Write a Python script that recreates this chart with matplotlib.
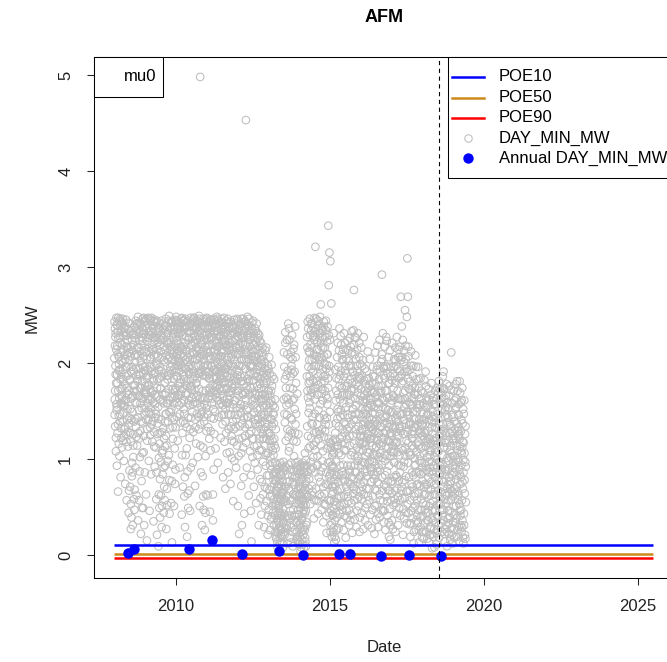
import matplotlib
matplotlib.use("Agg")
import matplotlib.pyplot as plt
from matplotlib.patches import Rectangle
from matplotlib.lines import Line2D

plt.rcParams['font.family'] = ['Liberation Sans', 'DejaVu Sans']

# ---------------- data ----------------
# daily minimum MW readings, grouped by month, first batch
mw_2008 = [
    [2.43, 1.62, 2.18, 1.34, 1.97, 2.31, 1.08, 1.79, 2.47, 1.51, 0.93],
    [1.88, 2.39, 1.27, 2.09, 0.66, 1.71, 2.26, 1.45, 1.99, 2.44, 1.03],
    [2.21, 1.39, 2.46, 1.83, 0.81, 1.57, 2.34, 1.22, 2.02, 1.66, 1.12],
    [1.74, 2.41, 1.19, 2.13, 1.93, 1.48, 2.28, 0.98, 1.61, 2.37, 1.31],
    [2.36, 1.55, 0.74, 2.04, 1.86, 1.26, 2.45, 1.69, 0.57, 2.17, 1.41],
    [1.96, 2.24, 1.13, 0.02, 2.42, 1.67, 0.44, 1.37, 2.11, 0.88, 1.82],
    [2.33, 0.71, 1.52, 2.07, 0.27, 1.18, 1.91, 0.39, 2.29, 0.96, 1.64],
    [1.49, 0.31, 2.19, 1.26, 1.02, 1.77, 0.06, 2.38, 0.47, 0.68, 2.01],
    [2.26, 1.59, 0.91, 2.44, 1.33, 1.87, 0.62, 2.09, 1.71, 1.14, 2.35],
    [1.81, 2.48, 0.36, 1.43, 2.16, 1.21, 0.57, 2.31, 1.66, 1.94, 1.02],
    [2.12, 1.29, 2.41, 0.22, 1.74, 2.27, 0.77, 1.53, 1.98, 1.06, 2.46],
    [1.63, 2.34, 0.49, 1.89, 2.07, 1.24, 0.31, 2.43, 1.46, 0.86, 1.76],
]
mw_2009 = [
    [2.38, 1.72, 2.11, 0.63, 1.49, 2.46, 1.86, 0.15, 1.31, 2.22, 1.58],
    [1.93, 2.47, 1.41, 2.16, 0.98, 1.77, 2.33, 0.46, 1.62, 2.04, 1.25],
    [2.29, 1.53, 2.44, 0.84, 1.96, 1.36, 2.19, 1.69, 1.18, 2.39, 1.84],
    [1.71, 2.36, 0.35, 1.88, 2.08, 1.28, 2.45, 0.92, 1.57, 2.23, 1.43],
    [2.42, 1.12, 1.99, 0.58, 2.27, 1.65, 0.21, 1.83, 2.14, 1.37, 2.37],
    [1.54, 0.09, 2.32, 1.01, 1.92, 0.49, 2.18, 1.27, 0.79, 2.41, 1.73],
    [2.24, 0.62, 1.41, 2.44, 0.29, 1.86, 1.06, 2.06, 0.84, 1.61, 2.35],
    [1.32, 2.17, 0.44, 1.89, 0.71, 2.39, 1.13, 1.67, 0.93, 2.01, 1.47],
    [2.46, 1.24, 0.27, 2.08, 1.58, 0.69, 2.31, 1.83, 0.98, 1.39, 2.19],
    [1.87, 2.34, 1.04, 2.49, 0.78, 1.61, 2.13, 1.32, 1.96, 2.42, 1.49],
    [2.22, 0.54, 1.76, 2.43, 0.13, 1.43, 2.03, 0.94, 1.21, 2.31, 1.64],
    [1.58, 2.39, 0.51, 1.94, 2.18, 1.11, 1.72, 2.45, 0.89, 1.33, 2.06],
]
mw_2010 = [
    [2.48, 1.86, 2.23, 1.44, 2.09, 1.63, 2.37, 1.19, 1.97, 2.31, 1.76],
    [2.02, 2.42, 1.56, 2.19, 0.91, 1.79, 2.35, 1.38, 2.08, 1.67, 2.46],
    [2.33, 1.71, 0.42, 2.47, 1.96, 1.27, 2.14, 0.71, 1.88, 2.39, 1.52],
    [1.83, 2.44, 0.61, 1.47, 2.21, 0.29, 1.94, 2.36, 1.04, 1.69, 2.12],
    [2.27, 1.33, 2.43, 0.19, 1.81, 0.87, 2.06, 1.58, 0.49, 2.32, 1.91],
    [1.61, 0.06, 2.38, 1.22, 2.03, 0.46, 1.76, 2.47, 0.91, 1.43, 2.18],
    [2.41, 1.94, 2.26, 1.49, 2.11, 0.96, 1.83, 2.45, 1.28, 1.67, 2.34],
    [1.91, 2.47, 1.59, 2.28, 0.72, 2.04, 1.41, 2.38, 1.79, 1.16, 2.16],
    [2.36, 1.47, 2.12, 1.84, 2.44, 1.02, 1.66, 2.29, 1.97, 1.31, 2.49],
    [1.73, 2.33, 0.51, 2.06, 4.98, 1.36, 2.42, 0.86, 1.91, 2.21, 1.54],
    [2.19, 0.31, 1.63, 2.39, 0.82, 1.87, 1.12, 2.46, 0.47, 2.03, 1.39],
    [1.44, 2.29, 0.26, 1.97, 2.44, 1.03, 1.71, 0.63, 2.13, 1.29, 2.37],
]
mw_2011 = [
    [2.47, 1.56, 2.18, 0.62, 1.91, 2.36, 1.33, 2.04, 1.72, 2.43, 1.21],
    [1.84, 2.31, 0.45, 1.66, 2.45, 1.09, 2.12, 1.43, 1.97, 2.39, 1.58],
    [2.26, 0.16, 1.77, 2.41, 0.36, 1.52, 2.07, 0.89, 1.93, 2.33, 1.26],
    [1.98, 2.44, 1.49, 2.22, 1.11, 1.86, 2.37, 1.64, 2.09, 1.76, 2.48],
    [2.34, 1.69, 2.46, 0.96, 1.94, 2.17, 1.44, 2.39, 1.81, 1.57, 2.06],
    [1.73, 2.28, 1.87, 2.43, 1.22, 2.01, 1.58, 2.35, 1.92, 2.14, 1.46],
    [2.42, 1.36, 2.11, 0.81, 1.79, 2.32, 1.61, 2.47, 1.97, 1.18, 2.23],
    [1.89, 2.38, 0.69, 1.52, 2.19, 1.27, 2.44, 1.74, 1.06, 2.03, 1.63],
    [2.29, 1.58, 2.46, 0.86, 1.93, 1.31, 2.14, 1.69, 2.37, 1.07, 1.84],
    [1.66, 2.21, 0.74, 2.43, 1.46, 1.97, 1.24, 2.31, 1.01, 1.78, 2.09],
    [2.14, 1.39, 2.36, 0.56, 1.82, 2.04, 1.18, 2.45, 0.98, 1.61, 2.26],
    [1.76, 2.41, 1.33, 2.17, 0.91, 1.99, 1.53, 2.33, 1.14, 2.46, 1.87],
]
mw_2012 = [
    [2.32, 0.51, 1.71, 2.44, 1.03, 1.91, 0.22, 2.16, 1.34, 2.39, 1.57],
    [1.86, 2.41, 1.48, 2.21, 0.72, 0.01, 1.97, 0.31, 2.34, 1.22, 1.67],
    [2.27, 1.12, 2.46, 0.81, 1.78, 2.09, 0.43, 1.56, 2.37, 1.33, 1.94],
    [1.69, 2.43, 4.53, 1.17, 2.04, 1.51, 0.91, 2.29, 1.83, 2.48, 1.36],
    [2.38, 1.44, 2.11, 0.62, 1.87, 2.46, 1.26, 1.67, 2.24, 1.08, 1.96],
    [1.97, 0.46, 2.33, 1.29, 0.14, 2.07, 1.61, 2.42, 1.02, 1.82, 2.19],
    [2.44, 1.21, 1.88, 0.71, 2.27, 1.49, 2.06, 0.96, 1.68, 2.36, 1.37],
    [1.58, 2.22, 0.54, 1.93, 2.41, 1.14, 1.76, 2.01, 0.89, 2.31, 1.41],
    [2.18, 1.34, 0.31, 1.73, 2.29, 1.09, 1.91, 1.52, 0.79, 2.04, 1.62],
    [1.84, 2.21, 0.42, 1.46, 1.99, 0.76, 1.67, 2.11, 1.21, 1.56, 0.97],
    [2.07, 1.31, 1.79, 0.29, 1.53, 1.94, 0.71, 1.66, 1.14, 2.13, 0.93],
    [1.62, 2.16, 0.56, 1.21, 1.88, 0.83, 1.43, 0.21, 1.97, 1.06, 1.71],
]
mw_2013 = [
    [1.94, 0.47, 1.27, 2.06, 0.68, 1.58, 0.26, 1.81, 0.93, 1.42, 1.13],
    [1.71, 0.89, 1.98, 0.39, 1.34, 0.62, 1.86, 1.09, 0.51, 1.56, 0.78],
    [1.46, 0.31, 1.83, 0.74, 1.14, 0.53, 1.62, 0.96, 0.24, 1.31, 0.67],
    [0.86, 0.17, 0.63, 0.94, 0.36, 0.71, 0.08, 0.52, 0.81, 0.27, 0.44],
    [0.49, 0.04, 0.77, 0.29, 0.91, 0.12, 0.58, 0.38, 0.84, 0.21, 0.66],
    [0.72, 0.19, 0.93, 0.41, 0.64, 0.07, 0.86, 0.33, 0.55, 0.97, 0.24],
    [2.11, 0.58, 1.47, 0.21, 1.83, 0.88, 2.32, 0.39, 1.19, 0.71, 1.64],
    [1.56, 0.31, 2.24, 0.76, 1.31, 0.12, 1.92, 0.53, 2.41, 0.94, 1.08],
    [2.36, 0.67, 1.12, 0.18, 1.74, 0.46, 2.06, 0.89, 1.43, 0.29, 1.97],
    [1.27, 0.41, 2.29, 0.82, 1.61, 0.09, 1.89, 0.63, 2.15, 0.36, 1.03],
    [2.19, 0.73, 1.52, 0.26, 2.38, 0.96, 1.36, 0.54, 1.79, 0.16, 1.18],
    [0.88, 0.34, 1.68, 0.61, 0.19, 0.93, 0.47, 1.26, 0.72, 0.11, 0.57],
]
mw_2014 = [
    [0.62, 0.14, 0.87, 0.33, 0.71, 0.04, 0.49, 0.94, 0.24, 0.56, 0.81],
    [0.38, 0.79, 0.11, 0.58, 0.96, 0.21, 0.00, 0.67, 0.47, 0.86, 0.29],
    [0.91, 0.43, 1.06, 0.18, 0.74, 0.52, 0.99, 0.09, 0.63, 0.34, 0.83],
    [2.27, 0.93, 1.71, 2.43, 1.24, 0.61, 1.96, 1.48, 2.12, 0.79, 1.59],
    [1.86, 2.46, 1.13, 0.53, 2.19, 1.66, 0.89, 2.34, 1.37, 2.03, 0.72],
    [2.41, 1.44, 0.66, 1.91, 2.28, 1.02, 1.73, 0.38, 2.09, 1.27, 2.47],
    [1.62, 2.33, 0.86, 3.21, 1.97, 1.18, 2.46, 0.57, 1.81, 2.14, 1.36],
    [2.22, 1.03, 1.77, 0.43, 2.39, 1.51, 0.81, 2.06, 1.29, 2.31, 0.63],
    [1.43, 2.48, 0.76, 1.89, 2.61, 1.14, 2.17, 0.47, 1.68, 2.36, 0.98],
    [2.34, 0.91, 1.61, 2.16, 0.34, 1.86, 2.43, 1.23, 0.64, 1.99, 1.41],
    [1.71, 2.27, 0.52, 1.36, 2.44, 0.86, 1.94, 0.23, 2.09, 1.11, 1.57],
    [2.38, 0.73, 1.84, 3.43, 1.21, 2.81, 0.44, 1.97, 3.15, 1.49, 2.24],
]
mw_2015 = [
    [0.84, 3.06, 0.31, 1.12, 0.57, 2.62, 0.93, 0.19, 0.71, 1.04, 0.42],
    [0.66, 1.19, 0.24, 0.91, 2.31, 0.48, 1.07, 0.13, 0.79, 0.36, 1.21],
    [1.93, 0.52, 1.37, 0.16, 1.71, 0.83, 1.18, 0.39, 2.06, 0.67, 1.52],
    [2.21, 0.76, 1.49, 0.28, 1.83, 1.06, 0.02, 2.36, 0.51, 1.62, 0.93],
    [1.44, 2.28, 0.61, 1.92, 0.34, 1.17, 2.09, 0.87, 1.66, 0.47, 1.31],
    [2.04, 0.79, 1.58, 0.26, 2.31, 1.09, 0.53, 1.76, 1.27, 0.41, 1.92],
    [1.36, 0.18, 1.89, 0.71, 2.14, 0.46, 1.21, 1.67, 0.93, 2.23, 0.61],
    [1.79, 0.56, 2.02, 0.89, 1.33, 0.31, 1.58, 1.14, 2.26, 0.02, 0.74],
    [2.17, 1.04, 0.42, 1.71, 2.33, 0.81, 1.46, 0.23, 1.91, 1.24, 0.64],
    [1.52, 2.34, 0.69, 2.76, 1.16, 1.87, 0.37, 2.09, 0.94, 1.63, 1.31],
    [2.26, 0.86, 1.41, 0.29, 1.97, 1.12, 2.14, 0.58, 1.69, 0.98, 1.83],
    [1.34, 0.51, 1.86, 1.08, 2.21, 0.24, 1.61, 0.82, 1.99, 1.23, 0.67],
]
mw_2016 = [
    [1.73, 0.94, 2.16, 0.44, 1.31, 1.87, 0.71, 1.52, 1.09, 2.03, 0.27],
    [1.18, 2.27, 0.63, 1.66, 1.39, 0.86, 1.94, 0.36, 1.51, 1.03, 1.78],
    [1.47, 0.82, 1.91, 1.22, 0.53, 1.69, 1.07, 2.12, 0.31, 1.36, 0.96],
    [1.26, 1.84, 0.69, 1.43, 0.98, 2.04, 1.58, 0.42, 1.17, 1.71, 0.87],
    [1.62, 0.91, 1.33, 0.28, 1.79, 1.14, 1.48, 0.61, 1.96, 1.05, 1.27],
    [0.97, 1.54, 1.21, 0.22, 1.86, 0.68, 1.39, 2.11, 0.83, 1.64, 1.12],
    [1.41, 0.52, 1.93, 1.04, 2.18, 0.76, 1.58, 0.29, 1.27, 1.76, 0.91],
    [1.83, 1.16, 0.63, 2.24, 1.47, 0.88, 1.34, 1.69, -0.01, 2.01, 0.47],
    [1.22, 2.09, 2.92, 0.81, 1.63, 1.01, 2.31, 0.56, 1.44, 1.87, 0.34],
    [1.94, 0.73, 1.37, 2.17, 0.98, 1.71, 0.26, 1.52, 1.13, 2.27, 0.61],
    [1.46, 2.23, 0.87, 1.64, 0.41, 1.89, 1.19, 0.67, 2.06, 1.33, 0.19],
    [0.93, 1.79, 0.48, 2.13, 1.27, 0.16, 1.58, 0.76, 1.96, 1.08, 1.41],
]
mw_2017 = [
    [1.61, 0.36, 2.21, 1.14, 0.77, 1.89, 1.32, 0.52, 1.74, 0.97, 2.04],
    [1.07, 1.86, 0.58, 1.43, 2.16, 0.24, 1.28, 0.83, 1.97, 1.51, 0.43],
    [2.27, 1.18, 0.69, 1.71, 1.39, 0.31, 2.06, 0.94, 1.56, 1.84, 0.49],
    [1.34, 2.06, 0.86, 1.92, 0.41, 1.62, 2.69, 0.67, 1.11, 1.79, 2.38],
    [1.88, 0.59, 1.47, 2.24, 0.21, 1.26, 1.69, 0.92, 2.01, 0.38, 1.54],
    [0.78, 1.63, 2.55, 1.12, 2.18, 0.44, 1.37, 1.94, 0.66, 1.49, 2.48],
    [1.46, 3.09, 0.53, 2.69, 1.84, 1.17, 2.07, 0.00, 0.81, 1.59, 0.32],
    [1.93, 0.67, 1.38, 0.19, 1.72, 1.04, 2.12, 0.46, 1.26, 1.63, 0.86],
    [1.21, 1.76, 0.38, 1.49, 0.83, 1.97, 0.12, 1.33, 0.61, 1.68, 1.01],
    [1.67, 0.51, 2.08, 0.94, 1.42, 0.26, 1.83, 1.16, 0.73, 1.57, 0.41],
    [0.87, 1.53, 0.34, 1.96, 1.18, 0.64, 1.74, 0.13, 1.41, 0.98, 1.27],
    [1.38, 0.72, 1.84, 0.29, 1.11, 1.63, 0.47, 0.96, 1.49, 0.18, 1.24],
]
mw_2018 = [
    [1.12, 1.69, 0.41, 0.86, 1.47, 0.17, 1.28, 0.63, 1.82, 0.96, 0.33],
    [0.74, 1.37, 1.91, 0.52, 1.13, 0.24, 1.64, 0.88, 1.46, 0.36, 1.02],
    [1.56, 0.44, 1.21, 0.81, 1.73, 0.13, 0.97, 1.41, 0.62, 1.08, 0.29],
    [0.91, 1.52, 0.27, 1.16, 0.68, 1.79, 0.38, 1.33, 0.07, 0.84, 1.44],
    [1.26, 0.56, 1.64, 0.19, 0.93, 1.38, 0.73, 0.08, 1.11, 0.47, 1.71],
    [0.63, 1.19, 0.34, 1.57, 0.86, 0.11, 1.32, 0.52, 0.99, 1.74, 0.26],
    [1.47, 0.39, 1.08, 0.77, 1.81, 0.18, 1.24, 0.61, 1.59, 0.93, 0.46],
    [0.96, 0.53, -0.01, 1.69, 1.31, 0.78, 0.24, 1.52, 1.04, 0.41, 1.86],
    [1.36, 0.71, 1.91, 0.36, 1.12, 0.58, 1.63, 0.14, 0.89, 1.44, 0.27],
    [0.84, 1.54, 0.31, 1.17, 0.62, 1.78, 0.09, 1.01, 1.38, 0.46, 0.73],
    [1.43, 0.57, 0.98, 0.22, 1.66, 0.81, 1.27, 0.39, 1.09, 0.16, 0.69],
    [0.77, 1.34, 2.11, 0.44, 1.06, 0.21, 1.58, 0.66, 0.93, 1.21, 0.35],
]
mw_2019 = [
    [1.24, 0.51, 1.71, 0.86, 0.18, 1.39, 0.64, 1.03, 0.33, 1.52, 0.79],
    [0.94, 1.63, 0.38, 1.14, 0.71, 1.81, 0.26, 1.29, 0.57, 0.99, 1.46],
    [1.33, 0.62, 1.57, 0.14, 0.89, 1.21, 0.46, 1.69, 0.74, 0.31, 1.08],
    [0.81, 1.41, 0.24, 1.06, 0.57, 1.74, 0.36, 1.18, 0.69, 1.52, 0.12],
    [1.17, 0.43, 1.61, 0.78, 0.21, 0.97, 1.34, 0.55],
]

# second batch of daily readings per month
mwb_2008 = [
    [2.05, 1.46, 2.36, 1.71, 2.27, 1.88, 1.22, 2.14, 1.57, 2.40],
    [1.54, 2.18, 1.79, 2.32, 1.36, 2.47, 1.92, 1.16, 2.06, 1.63],
    [1.93, 2.28, 1.47, 2.39, 1.73, 2.11, 1.32, 1.88, 2.43, 1.58],
    [2.19, 1.64, 2.46, 1.39, 1.83, 2.01, 1.56, 2.32, 1.24, 2.08],
    [1.78, 2.21, 1.33, 2.38, 1.61, 1.96, 2.29, 1.18, 1.74, 2.09],
    [2.31, 1.52, 1.87, 2.16, 1.28, 2.35, 1.71, 0.67, 2.03, 1.43],
    [1.83, 2.41, 1.27, 1.63, 0.53, 2.17, 1.41, 1.96, 0.82, 2.24],
    [2.13, 0.86, 1.66, 2.31, 1.14, 1.92, 0.58, 1.39, 2.08, 1.71],
    [1.77, 2.08, 1.42, 2.29, 1.95, 1.23, 2.41, 1.58, 2.16, 1.83],
    [2.39, 1.66, 2.07, 1.27, 1.88, 2.42, 1.51, 2.24, 0.87, 1.74],
    [1.87, 2.33, 1.58, 2.02, 1.39, 2.19, 1.64, 0.49, 2.37, 1.81],
    [2.23, 1.38, 1.96, 2.47, 1.07, 2.13, 1.69, 2.31, 1.53, 1.92],
]
mwb_2009 = [
    [1.96, 2.44, 1.67, 2.27, 1.41, 2.04, 1.84, 2.36, 1.19, 1.76],
    [2.26, 1.62, 2.41, 1.87, 2.12, 1.49, 2.29, 1.73, 2.46, 1.33],
    [1.71, 2.06, 1.47, 2.33, 1.91, 2.47, 1.62, 2.14, 1.39, 2.27],
    [2.31, 1.59, 2.14, 1.82, 2.43, 1.13, 1.97, 2.26, 1.67, 1.51],
    [1.89, 2.33, 1.47, 2.09, 0.86, 2.44, 1.74, 1.98, 1.26, 2.21],
    [2.07, 1.42, 2.26, 0.63, 1.84, 2.36, 1.16, 1.96, 0.39, 1.62],
    [1.74, 2.12, 0.97, 1.92, 2.29, 1.28, 0.51, 1.67, 2.41, 1.09],
    [2.26, 1.58, 0.91, 2.03, 1.21, 2.31, 0.57, 1.79, 1.38, 2.14],
    [1.69, 2.39, 1.47, 1.14, 2.22, 1.87, 0.52, 2.04, 1.58, 2.31],
    [2.21, 1.73, 2.44, 1.49, 2.06, 0.43, 1.92, 2.36, 1.64, 2.17],
    [1.89, 2.37, 1.52, 2.14, 0.77, 1.97, 2.44, 1.33, 1.73, 2.09],
    [2.27, 1.84, 2.12, 1.41, 2.36, 1.66, 0.74, 2.03, 1.91, 2.44],
]
mwb_2010 = [
    [1.74, 2.27, 1.97, 2.43, 1.59, 2.14, 1.86, 2.36, 1.67, 2.05],
    [2.28, 1.66, 2.12, 1.92, 2.39, 1.47, 2.01, 2.31, 1.83, 2.17],
    [1.98, 2.41, 1.58, 2.16, 1.04, 2.29, 1.73, 2.44, 1.39, 2.07],
    [2.17, 1.61, 2.37, 1.86, 0.81, 2.03, 1.37, 2.46, 1.77, 1.94],
    [1.67, 2.14, 1.11, 2.38, 1.76, 2.01, 0.64, 1.43, 2.24, 1.96],
    [2.26, 1.89, 0.67, 2.09, 1.56, 2.33, 1.31, 1.98, 2.41, 1.72],
    [1.76, 2.19, 2.43, 1.63, 2.04, 2.38, 1.57, 2.21, 1.89, 2.47],
    [2.31, 2.09, 1.72, 2.43, 1.86, 2.21, 1.33, 1.97, 2.36, 1.64],
    [1.79, 2.24, 2.04, 2.41, 1.58, 2.17, 1.89, 2.33, 1.44, 2.07],
    [2.13, 1.89, 2.46, 1.63, 2.27, 1.14, 1.98, 2.37, 1.47, 2.09],
    [1.93, 2.31, 1.49, 2.12, 1.71, 2.43, 0.61, 1.96, 2.24, 1.57],
    [2.08, 1.64, 2.38, 1.87, 2.17, 0.44, 1.91, 2.46, 1.53, 2.24],
]
mwb_2011 = [
    [1.86, 2.29, 1.47, 2.11, 1.98, 2.39, 1.63, 2.26, 1.84, 2.07],
    [2.19, 1.74, 2.36, 1.88, 2.04, 1.29, 2.27, 1.69, 2.44, 1.96],
    [1.97, 2.37, 1.63, 2.19, 0.63, 1.84, 2.46, 1.42, 2.12, 1.71],
    [2.31, 1.76, 2.14, 1.93, 2.41, 1.67, 2.06, 2.29, 1.84, 2.17],
    [1.91, 2.21, 1.76, 2.33, 2.04, 1.61, 2.44, 1.89, 2.27, 1.73],
    [2.18, 1.96, 2.41, 1.67, 2.29, 1.84, 2.07, 2.46, 1.71, 2.23],
    [1.84, 2.19, 1.56, 2.37, 2.01, 1.73, 2.28, 1.46, 2.13, 1.94],
    [2.24, 1.81, 2.06, 1.39, 2.31, 1.94, 1.58, 2.16, 1.86, 2.41],
    [1.73, 2.19, 1.98, 2.34, 1.47, 2.06, 1.79, 2.42, 1.62, 2.13],
    [2.17, 1.53, 1.89, 2.29, 1.34, 2.06, 1.71, 2.38, 1.19, 1.92],
    [1.74, 2.23, 1.57, 1.96, 2.39, 1.31, 2.11, 1.86, 2.31, 1.46],
    [2.24, 1.61, 2.09, 1.81, 2.37, 1.42, 2.16, 1.93, 1.71, 2.28],
]
mwb_2012 = [
    [1.84, 2.27, 1.46, 2.09, 1.66, 2.36, 1.21, 1.97, 2.18, 1.53],
    [2.13, 1.57, 2.29, 1.81, 1.06, 2.46, 1.69, 2.03, 1.37, 2.26],
    [1.81, 2.19, 1.67, 2.31, 1.43, 2.04, 1.86, 2.43, 1.24, 2.14],
    [2.19, 1.94, 2.36, 1.62, 2.11, 1.76, 2.41, 1.44, 2.01, 2.27],
    [1.72, 2.29, 1.53, 2.04, 1.81, 2.39, 1.36, 2.17, 1.91, 2.31],
    [2.27, 1.74, 1.97, 0.83, 2.14, 1.46, 2.36, 1.69, 1.21, 2.03],
    [1.97, 2.12, 1.56, 2.31, 1.82, 1.13, 2.19, 1.63, 2.02, 1.41],
    [2.07, 1.67, 2.33, 1.29, 1.86, 2.14, 1.53, 1.04, 1.96, 2.26],
    [1.86, 1.43, 2.09, 1.66, 1.21, 1.97, 2.23, 1.37, 1.78, 0.59],
    [1.31, 1.74, 2.03, 1.61, 1.09, 1.87, 1.43, 2.16, 1.26, 0.63],
    [1.63, 1.89, 1.21, 1.74, 1.46, 2.01, 0.51, 1.37, 1.84, 1.04],
    [1.33, 1.79, 1.06, 1.56, 0.69, 1.92, 1.27, 1.67, 0.41, 1.49],
]
mwb_2013 = [
    [1.36, 1.71, 0.83, 1.53, 1.19, 1.89, 0.61, 1.66, 1.02, 0.37],
    [1.24, 1.61, 0.71, 1.41, 1.76, 0.96, 1.19, 0.44, 1.48, 0.84],
    [1.04, 1.37, 0.58, 1.21, 0.86, 1.53, 0.41, 0.77, 1.11, 0.19],
    [0.53, 0.77, 0.31, 0.66, 0.14, 0.89, 0.42, 0.59, 0.23, 0.74],
    [0.71, 0.33, 0.52, 0.86, 0.18, 0.63, 0.44, 0.96, 0.26, 0.57],
    [0.41, 0.83, 0.27, 0.61, 0.12, 0.76, 0.48, 0.91, 0.35, 0.67],
    [1.62, 0.43, 1.96, 0.71, 1.38, 0.29, 2.21, 0.92, 1.74, 0.56],
    [1.87, 0.62, 1.46, 0.27, 2.09, 0.84, 1.62, 0.41, 1.23, 0.69],
    [1.58, 0.38, 2.24, 0.77, 1.29, 0.56, 1.86, 0.13, 2.11, 0.96],
    [1.93, 0.57, 1.41, 0.24, 2.04, 0.76, 1.73, 0.47, 1.19, 0.87],
    [1.63, 0.41, 1.91, 0.81, 1.27, 0.62, 2.06, 0.34, 1.47, 0.91],
    [0.63, 0.24, 0.81, 0.42, 0.97, 0.15, 0.69, 0.36, 0.53, 0.84],
]
mwb_2014 = [
    [0.42, 0.76, 0.19, 0.64, 0.28, 0.91, 0.53, 0.08, 0.69, 0.37],
    [0.61, 0.16, 0.84, 0.43, 0.72, 0.26, 0.93, 0.52, 0.07, 0.64],
    [0.57, 0.86, 0.26, 0.68, 0.14, 0.93, 0.46, 0.77, 0.31, 0.61],
    [1.86, 1.34, 2.16, 0.87, 1.64, 2.36, 1.11, 1.79, 0.69, 2.03],
    [2.11, 1.53, 1.81, 2.29, 0.97, 1.72, 2.41, 1.22, 1.94, 0.62],
    [1.69, 2.16, 1.36, 0.91, 1.82, 2.37, 1.14, 1.97, 0.57, 2.24],
    [2.04, 1.47, 2.27, 1.09, 1.74, 0.69, 2.36, 1.28, 2.07, 0.93],
    [1.67, 2.14, 0.94, 1.86, 2.44, 1.21, 0.56, 1.97, 1.43, 2.26],
    [2.03, 1.26, 2.31, 1.57, 0.87, 2.21, 1.79, 0.61, 2.06, 1.31],
    [1.73, 2.27, 1.08, 1.94, 0.71, 2.38, 1.46, 2.07, 0.53, 1.81],
    [2.16, 1.29, 1.87, 0.74, 2.34, 1.66, 0.41, 1.98, 1.43, 2.22],
    [1.63, 2.09, 0.96, 1.74, 0.57, 2.29, 1.36, 0.82, 1.91, 1.17],
]
mwb_2015 = [
    [0.56, 0.97, 0.24, 0.77, 1.16, 0.46, 0.87, 0.33, 0.63, 1.09],
    [0.93, 0.41, 0.71, 1.06, 0.28, 0.84, 0.56, 1.13, 0.19, 0.74],
    [1.27, 0.71, 1.61, 0.44, 0.97, 1.84, 0.26, 1.14, 0.59, 1.42],
    [1.67, 1.14, 1.96, 0.61, 1.34, 2.13, 0.84, 1.76, 0.43, 1.21],
    [1.87, 0.69, 1.51, 2.19, 1.04, 0.52, 1.74, 1.23, 2.03, 0.83],
    [1.46, 2.14, 0.94, 1.67, 0.62, 1.86, 1.38, 0.77, 2.21, 1.16],
    [1.97, 0.84, 1.54, 1.09, 2.04, 0.39, 1.76, 1.31, 0.66, 1.46],
    [1.43, 2.13, 0.76, 1.67, 0.47, 1.97, 1.24, 0.87, 1.83, 0.36],
    [1.62, 0.93, 1.97, 0.54, 1.36, 2.11, 1.07, 1.79, 0.71, 1.52],
    [1.91, 0.79, 1.41, 2.19, 0.57, 1.73, 1.03, 2.27, 0.86, 1.47],
    [1.56, 2.04, 0.67, 1.78, 1.26, 0.46, 1.91, 1.03, 2.31, 0.79],
    [1.76, 0.93, 1.47, 0.61, 2.06, 1.17, 0.39, 1.84, 1.29, 0.74],
]
mwb_2016 = [
    [1.24, 1.66, 0.83, 1.43, 0.58, 1.97, 1.16, 0.97, 1.61, 1.36],
    [1.47, 0.76, 1.23, 1.82, 0.96, 1.59, 1.14, 0.49, 1.71, 1.31],
    [1.17, 1.62, 0.69, 1.41, 1.83, 0.87, 1.54, 1.26, 0.61, 1.74],
    [1.53, 1.06, 1.36, 0.57, 1.77, 1.21, 0.91, 1.63, 1.33, 0.76],
    [1.21, 1.56, 0.76, 1.41, 0.97, 1.69, 0.47, 1.31, 1.86, 0.84],
    [1.36, 0.79, 1.69, 1.04, 0.51, 1.47, 1.29, 0.93, 1.78, 0.37],
    [1.13, 1.67, 0.67, 1.36, 0.87, 1.97, 1.19, 0.43, 1.52, 1.02],
    [1.27, 0.74, 1.58, 0.39, 1.91, 1.06, 1.42, 0.57, 1.76, 1.14],
    [1.71, 0.94, 1.33, 2.04, 0.67, 1.54, 1.17, 0.46, 1.96, 1.27],
    [1.21, 1.61, 0.46, 1.84, 1.04, 0.83, 1.43, 1.97, 0.71, 1.29],
    [1.71, 1.03, 1.37, 0.56, 1.96, 0.77, 1.51, 1.12, 0.34, 1.79],
    [1.18, 1.64, 0.67, 1.36, 0.31, 1.86, 1.03, 1.49, 0.57, 1.24],
]
mwb_2017 = [
    [1.27, 1.82, 0.64, 1.49, 1.07, 0.27, 1.66, 1.18, 1.96, 0.81],
    [1.64, 0.96, 1.34, 0.67, 1.79, 1.16, 2.03, 0.54, 1.41, 1.17],
    [1.46, 0.81, 1.94, 1.07, 0.61, 1.63, 1.24, 2.14, 0.77, 1.32],
    [1.63, 1.04, 2.17, 0.57, 1.46, 1.86, 0.93, 1.29, 2.03, 0.71],
    [1.34, 2.06, 0.76, 1.62, 1.09, 1.81, 0.48, 1.41, 2.13, 0.97],
    [1.91, 1.26, 0.59, 1.71, 1.03, 2.04, 0.82, 1.57, 1.19, 0.33],
    [1.28, 1.91, 0.67, 1.49, 0.96, 2.17, 0.44, 1.73, 1.07, 1.36],
    [1.46, 1.04, 1.81, 0.57, 1.57, 0.33, 1.36, 1.97, 0.74, 1.14],
    [1.56, 0.71, 1.29, 1.86, 0.49, 1.11, 1.63, 0.24, 1.41, 0.93],
    [1.26, 1.74, 0.64, 1.33, 0.86, 1.96, 0.36, 1.49, 1.07, 0.57],
    [1.36, 0.74, 1.67, 0.47, 1.14, 1.83, 0.26, 1.29, 0.86, 1.56],
    [1.03, 1.57, 0.39, 1.27, 0.84, 1.71, 0.58, 1.36, 0.24, 0.91],
]
mwb_2018 = [
    [0.77, 1.36, 0.54, 1.58, 0.24, 1.06, 1.41, 0.71, 1.21, 0.47],
    [1.27, 0.63, 1.54, 0.93, 1.76, 0.44, 1.19, 0.73, 1.61, 0.17],
    [1.17, 0.69, 1.47, 0.36, 1.29, 0.86, 1.62, 0.51, 1.04, 0.21],
    [1.21, 0.54, 1.67, 0.76, 1.09, 0.21, 1.39, 0.97, 0.46, 1.61],
    [0.87, 1.49, 0.36, 1.19, 0.63, 1.57, 0.27, 1.02, 0.81, 1.33],
    [1.07, 0.46, 1.43, 0.74, 1.22, 0.23, 1.63, 0.91, 0.41, 1.16],
    [1.16, 0.67, 1.69, 0.31, 0.97, 1.36, 0.54, 1.73, 0.84, 1.27],
    [1.18, 0.66, 1.43, 0.33, 1.63, 0.89, 1.26, 0.47, 1.74, 0.94],
    [1.04, 1.57, 0.47, 1.29, 0.76, 1.73, 0.22, 1.17, 0.64, 1.51],
    [1.27, 0.54, 1.66, 0.87, 1.46, 0.24, 1.12, 0.69, 1.59, 0.38],
    [0.89, 1.53, 0.33, 1.19, 0.64, 1.76, 0.46, 1.36, 0.74, 1.02],
    [1.14, 0.57, 1.72, 0.28, 1.29, 0.83, 1.46, 0.12, 1.03, 0.61],
]
mwb_2019 = [
    [0.97, 1.44, 0.27, 1.19, 0.69, 1.61, 0.42, 1.31, 0.91, 1.78],
    [1.21, 0.51, 1.54, 0.83, 1.37, 0.19, 1.09, 1.71, 0.66, 1.24],
    [0.97, 1.46, 0.29, 1.26, 0.53, 1.81, 0.84, 1.13, 0.41, 1.59],
    [1.29, 0.47, 0.94, 1.61, 0.29, 1.12, 0.76, 1.37, 0.18, 0.99],
    [0.86, 1.47, 0.31, 1.06, 0.64, 1.26, 0.17, 0.92],
]

day_years = [2008, 2009, 2010, 2011, 2012, 2013, 2014, 2015, 2016, 2017, 2018, 2019]
day_values_a = [mw_2008, mw_2009, mw_2010, mw_2011, mw_2012, mw_2013,
                mw_2014, mw_2015, mw_2016, mw_2017, mw_2018, mw_2019]
day_values_b = [mwb_2008, mwb_2009, mwb_2010, mwb_2011, mwb_2012, mwb_2013,
                mwb_2014, mwb_2015, mwb_2016, mwb_2017, mwb_2018, mwb_2019]

# annual minimum (decimal year, MW)
annual_dates = [2008.43, 2008.64, 2010.42, 2011.17, 2012.14, 2013.34,
                2014.13, 2015.30, 2015.65, 2016.65, 2017.56, 2018.60]
annual_mw = [0.018, 0.06, 0.06, 0.16, 0.01, 0.04, 0.0, 0.007, 0.007, -0.01, 0.0, -0.01]

# POE levels
poe_labels = ["POE10", "POE50", "POE90"]
poe_values = [0.104, 0.015, -0.035]
poe_colors = ["#0000FF", "#CC8A1C", "#FF0000"]
poe_span = [2008.0, 2025.5]

cutoff_date = 2018.53
x_ticks = [2010, 2015, 2020, 2025]
y_ticks = [0, 1, 2, 3, 4, 5]

# ---------------- figure ----------------
W, H = 667, 662
FS = 12
fig = plt.figure(figsize=(W / 100, H / 100), dpi=100)
L, R, T, B = 94, 675, 57, 578
ax = fig.add_axes([L / W, 1 - B / H, (R - L) / W, (B - T) / H])
ax.set_xlim(2007.338, 2026.2)
ax.set_ylim(-0.240, 5.1875)

xs, ys = [], []
for batch, shift in ((day_values_a, 0.5), (day_values_b, 0.0)):
    for yr, months in zip(day_years, batch):
        for m, vals in enumerate(months):
            n = len(vals)
            for i, v in enumerate(vals):
                xs.append(yr + (m + (i + shift) / n) / 12.0)
                ys.append(v)

ax.scatter(xs, ys, s=30, facecolors="none", edgecolors="#BEBEBE", linewidths=0.75, zorder=2)

for v, c in zip(poe_values, poe_colors):
    ax.plot(poe_span, [v, v], color=c, lw=1.8, solid_capstyle="butt", zorder=3)

ax.plot(annual_dates, annual_mw, "o", color="#0000FF", ms=7.5, mec="none", zorder=4)

ax.axvline(cutoff_date, color="black", lw=0.8, ls=(0, (3.8, 3.2)), zorder=5)

for s in ax.spines.values():
    s.set_linewidth(0.75)
    s.set_color("black")

ax.set_xticks(x_ticks)
ax.set_xticklabels([str(t) for t in x_ticks])
ax.set_yticks(y_ticks)
ax.set_yticklabels([str(t) for t in y_ticks], rotation=90, va="center")
ax.tick_params(axis="both", direction="out", length=5, width=0.75, labelsize=FS, colors="#222222")
ax.tick_params(axis="x", pad=10)
ax.tick_params(axis="y", pad=10)

fig.text((L + R) / 2 / W, 1 - 18 / H, "AFM", ha="center", va="center", fontsize=13, fontweight="bold")
fig.text(384 / W, 1 - 648 / H, "Date", ha="center", va="center", fontsize=FS, color="#222222")
fig.text(32 / W, 1 - 318 / H, "MW", ha="center", va="center", fontsize=FS, rotation=90, color="#222222")

# helper: pixel -> axes fraction
def pa(x, y):
    return ((x - L) / (R - L), (B - y) / (B - T))

# mu0 box (top-left)
x0, y0 = pa(94, 97)
x1, y1 = pa(163, 57)
ax.add_patch(Rectangle((x0, y0), x1 - x0, y1 - y0, transform=ax.transAxes,
                       facecolor="white", edgecolor="black", lw=0.75, zorder=6, clip_on=False))
tx, ty = pa(156, 77)
ax.text(tx, ty, "mu0", transform=ax.transAxes, ha="right", va="center", fontsize=FS, zorder=7)

# main legend (top-right)
x0, y0 = pa(448, 178)
x1, y1 = pa(675, 57)
ax.add_patch(Rectangle((x0, y0), x1 - x0, y1 - y0, transform=ax.transAxes,
                       facecolor="white", edgecolor="black", lw=0.75, zorder=6, clip_on=False))
rows = [77, 98, 118, 138, 158]
for lab, c, ry in zip(poe_labels, poe_colors, rows[:3]):
    a, b = pa(452, ry)
    a2, _ = pa(484, ry)
    ax.add_line(Line2D([a, a2], [b, b], transform=ax.transAxes, color=c, lw=1.8, zorder=7))
    tx, ty = pa(499, ry)
    ax.text(tx, ty, lab, transform=ax.transAxes, ha="left", va="center", fontsize=FS, zorder=7)
mx, my = pa(468, rows[3])
ax.plot([mx], [my], "o", transform=ax.transAxes, ms=5.4, mfc="none", mec="#BEBEBE", mew=0.75, zorder=7)
tx, ty = pa(499, rows[3])
ax.text(tx, ty, "DAY_MIN_MW", transform=ax.transAxes, ha="left", va="center", fontsize=FS, zorder=7)
mx, my = pa(468, rows[4])
ax.plot([mx], [my], "o", transform=ax.transAxes, ms=7.5, color="#0000FF", mec="none", zorder=7)
tx, ty = pa(499, rows[4])
ax.text(tx, ty, "Annual DAY_MIN_MW", transform=ax.transAxes, ha="left", va="center", fontsize=FS, zorder=7)

fig.savefig("out.png", dpi=100, facecolor="white")
